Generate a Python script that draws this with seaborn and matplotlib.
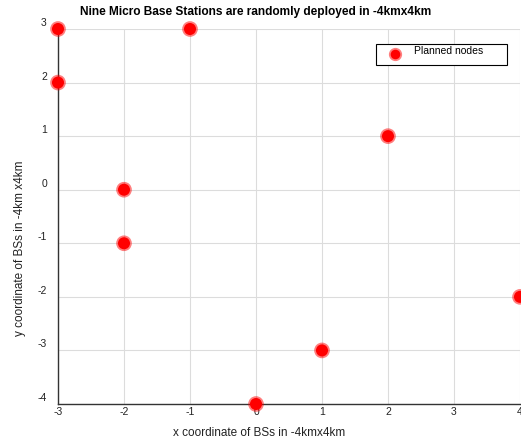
import matplotlib
matplotlib.use("Agg")
import matplotlib.pyplot as plt
import matplotlib.transforms as mtransforms
import seaborn as sns
import pandas as pd

x_coords = [-3, -3, -1, 2, -2, -2, 4, 1, 0]
y_coords = [3, 2, 3, 1, 0, -1, -2, -3, -4]
series_name = "Planned nodes"
x_ticks = [-3, -2, -1, 0, 1, 2, 3, 4]
y_ticks = [-4, -3, -2, -1, 0, 1, 2, 3]

title = "Nine Micro Base Stations are randomly deployed in -4kmx4km"
xlabel = "x coordinate of BSs in -4kmx4km"
ylabel = "y coordinate of BSs in -4km x4km"

df = pd.DataFrame({"x": x_coords, "y": y_coords, "series": series_name})

sns.set_style("white")
plt.rcParams["font.family"] = ["Liberation Sans", "DejaVu Sans"]
plt.rcParams["axes.unicode_minus"] = False

fig = plt.figure(figsize=(5.21, 4.43), dpi=100)
ax = fig.add_axes([58 / 521, 1 - 404 / 443, 462 / 521, 375 / 443])

sns.scatterplot(data=df, x="x", y="y", hue="series", palette=["#ff0000"],
                s=75, edgecolor=(1, 0, 0, 0.5), linewidth=2.6,
                clip_on=False, zorder=5, ax=ax)

ax.set_xlim(-3, 4)
ax.set_ylim(-4, 3)
ax.set_xticks(x_ticks)
ax.set_yticks(y_ticks)
ax.grid(True, color="#dcdcdc", linewidth=0.8)
ax.set_axisbelow(True)
for s in ["top", "right"]:
    ax.spines[s].set_visible(False)
for s in ["left", "bottom"]:
    ax.spines[s].set_color("#333333")
    ax.spines[s].set_linewidth(1.0)
ax.tick_params(axis="both", direction="in", length=4, width=0.8,
               colors="#333333", labelsize=7.5, labelcolor="#222222")
ax.tick_params(axis="x", pad=2)
ax.tick_params(axis="y", pad=8)
offset = mtransforms.ScaledTranslation(0, 5 / 72, fig.dpi_scale_trans)
for lab in ax.get_yticklabels():
    lab.set_transform(lab.get_transform() + offset)

ax.set_xlabel("")
ax.set_ylabel("")
fig.text(259 / 521, 1 - 433 / 443, xlabel, ha="center", va="center",
         fontsize=8.5, color="#222222")
fig.text(20 / 521, 1 - 248 / 443, ylabel, ha="center", va="center",
         rotation=90, fontsize=8.5, color="#222222")
fig.text(256 / 521, 1 - 12 / 443, title, ha="center", va="center",
         fontsize=8.6, fontweight="bold", color="#000000")

leg = ax.legend(loc="upper left", bbox_to_anchor=(318 / 462, 1 - 15 / 375, 131 / 462, 0.0),
                mode="expand", fontsize=7.5, frameon=True, fancybox=False,
                edgecolor="#000000", framealpha=1, borderpad=0.55, borderaxespad=0,
                handlelength=2.6, handletextpad=0.5, markerscale=0.8)
leg.get_frame().set_linewidth(0.8)
text_offset = mtransforms.ScaledTranslation(0, 3.0 / 72, fig.dpi_scale_trans)
for t in leg.get_texts():
    t.set_color("#000000")
    t.set_transform(t.get_transform() + text_offset)

fig.savefig("out.png", dpi=100)
